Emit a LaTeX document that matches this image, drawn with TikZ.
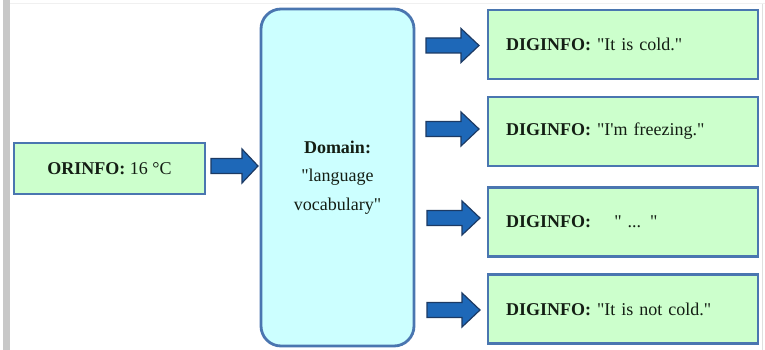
\documentclass[tikz,border=0pt]{standalone}
\usepackage{fontspec}
\setmainfont{Liberation Serif}[Ligatures=TeXOff]
\definecolor{boxblue}{RGB}{74,118,176}
\definecolor{greenfill}{RGB}{204,255,204}
\definecolor{cyanfill}{RGB}{204,255,255}
\definecolor{arrowfill}{RGB}{30,104,184}
\definecolor{arrowline}{RGB}{28,58,100}
\definecolor{framegray}{RGB}{200,200,200}
\definecolor{textdark}{RGB}{20,30,20}
\tikzset{
  txt/.style={font=\fontsize{18}{28.5}\selectfont, text=textdark},
  infobox/.style={draw=boxblue, line width=2.8pt, fill=greenfill, txt, inner sep=0pt},
  digbox/.style={infobox, minimum width=270pt, minimum height=69pt, text width=234pt, align=left},
  dombox/.style={draw=boxblue, line width=2.8pt, fill=cyanfill, rounded corners=20pt, txt, align=center,
    minimum width=153pt, minimum height=337pt, inner sep=0pt},
  blockarrow/.style={draw=arrowline, fill=arrowfill, line width=1.2pt, line join=miter},
}
% #1 tail x, #2 tip x, #3 centre y, #4 head length
\newcommand{\blockarr}[4]{%
  \draw[blockarrow] (#1,{#3-7.5}) -- ({#2-#4},{#3-7.5}) -- ({#2-#4},{#3-17}) -- (#2,#3)
    -- ({#2-#4},{#3+17}) -- ({#2-#4},{#3+7.5}) -- (#1,{#3+7.5}) -- cycle;}
\begin{document}
\begin{tikzpicture}[x=1pt,y=-1pt]
\useasboundingbox (0,0) rectangle (765,350);
\fill[white] (0,0) rectangle (765,350);
\fill[framegray] (3,0) rectangle (10,350);
\draw[gray!12, line width=1pt] (10,4) -- (765,4);
\draw[gray!25, line width=1pt] (762,4) -- (762,350);

\node[infobox, minimum width=191pt, minimum height=51pt] (or) at (109.5,168.5) {\textbf{ORINFO:} 16 °C};
\node[dombox] (dom) at (337.5,177.5) {\textbf{Domain:}\\"language\\vocabulary"};

\node[digbox] (d1) at (623,44.5) {\textbf{DIGINFO:} "It is cold."};
\node[digbox] (d2) at (623,131.5) {\textbf{DIGINFO:} "I'm freezing."};
\node[digbox] (d3) at (623,222) {\textbf{DIGINFO:}\hspace{1.3em}" ... "};
\node[digbox] (d4) at (623,309) {\textbf{DIGINFO:} "It is not cold."};

\blockarr{211}{258}{166}{16}
\blockarr{426}{479}{45.5}{18}
\blockarr{426}{479}{129}{18}
\blockarr{427}{480}{218}{18}
\blockarr{427}{480}{310}{18}
\end{tikzpicture}
\end{document}
